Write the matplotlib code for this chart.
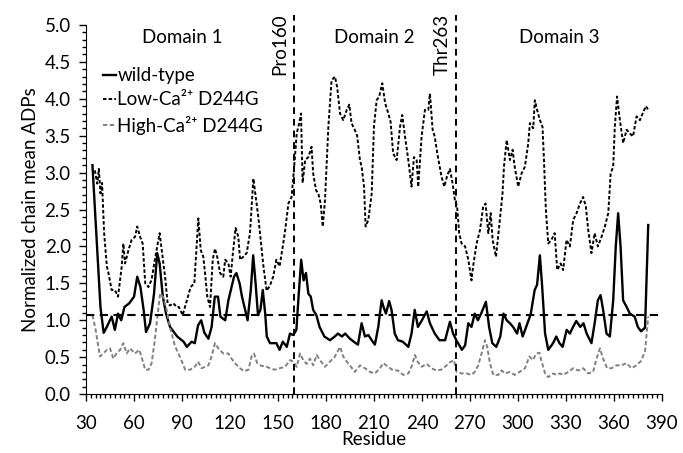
import matplotlib
matplotlib.use("Agg")
import matplotlib.pyplot as plt
from matplotlib.ticker import MultipleLocator, FormatStrFormatter

plt.rcParams['font.family'] = ['Lato', 'DejaVu Sans']

# wild-type
wt_res = [34, 37, 39, 41, 43, 46, 48, 50, 52, 54, 57, 60, 62, 64, 66, 67.5, 70, 72.5, 74.5, 76,
          78, 80, 82.5, 87, 91, 93, 96, 98, 100, 102, 104, 106.5, 108.5, 110.5, 112.5, 114, 117,
          119, 121, 122.5, 124, 126, 127.5, 129.5, 131, 133, 134.5, 136, 137.5, 139, 140.5, 142,
          143, 145, 149, 151, 153, 155.5, 157.5, 159.5, 161.5, 163, 164.5, 166, 167.5, 169, 170.5,
          172, 174, 176, 179, 182.5, 185.5, 187.5, 190, 192, 195, 198, 200, 202.3, 204.4, 206.5,
          208.6, 210.6, 212.7, 214.8, 216, 217.5, 219.5, 221, 223, 225, 228, 231.5, 233.5, 235.5,
          237.5, 240, 243, 245, 248, 251, 254.5, 257.5, 259.5, 261.5, 265, 267, 269, 271, 273,
          275, 277, 280, 282, 284, 286.5, 289, 291, 293, 295, 297, 299.5, 301, 303, 306, 308,
          310.5, 312, 313.75, 315.2, 317, 319, 322, 324, 326, 328, 330.5, 332.5, 334.5, 336.5,
          339, 341, 343, 346, 348, 350, 351.7, 353.3, 355.4, 357.5, 359.6, 361.2, 362.7, 364.2,
          365.8, 368, 370, 373, 375, 377, 379.5, 380.5, 381.5]
wt_val = [3.10, 1.95, 1.18, 0.83, 0.91, 1.05, 0.87, 1.09, 1.00, 1.18, 1.23, 1.32, 1.59, 1.45,
          1.14, 0.84, 0.96, 1.36, 1.91, 1.77, 1.32, 1.09, 0.91, 0.78, 0.71, 0.64, 0.71, 0.69,
          0.93, 1.00, 0.83, 0.75, 0.91, 1.32, 1.32, 1.05, 1.00, 1.27, 1.45, 1.59, 1.64, 1.50,
          1.32, 1.14, 1.00, 1.41, 1.88, 1.50, 1.07, 1.14, 1.41, 1.09, 0.78, 0.69, 0.69, 0.60,
          0.71, 0.64, 0.82, 0.80, 0.87, 1.36, 1.82, 1.54, 1.64, 1.36, 1.32, 1.14, 1.07, 0.91,
          0.78, 0.73, 0.78, 0.82, 0.78, 0.82, 0.75, 0.70, 0.67, 0.96, 0.78, 0.80, 0.73, 0.67,
          0.91, 1.27, 1.18, 1.09, 1.26, 1.14, 0.82, 0.73, 0.71, 0.64, 0.82, 1.14, 0.91, 1.00,
          1.12, 0.96, 0.82, 0.73, 0.73, 0.98, 0.82, 0.73, 0.60, 0.66, 0.96, 0.91, 1.09, 1.00,
          1.09, 1.25, 0.91, 0.69, 0.64, 0.78, 1.09, 1.00, 0.96, 0.91, 0.82, 0.96, 0.78, 0.96,
          1.08, 1.41, 1.48, 1.88, 1.45, 0.82, 0.60, 0.69, 0.78, 0.69, 0.64, 0.87, 0.82, 0.91,
          0.99, 0.91, 0.96, 0.82, 0.69, 0.96, 1.27, 1.34, 1.14, 0.82, 0.78, 1.27, 2.00, 2.45,
          2.00, 1.27, 1.18, 1.09, 1.05, 0.91, 0.85, 0.90, 1.60, 2.29]

# Low-Ca2+ D244G
lo_res = [35.5, 37, 38, 39, 40, 41.3, 43, 44, 46, 48, 50, 52.3, 53.3, 54.4, 56.5, 58.5, 60.6, 62,
          63.8, 65.4, 67, 69, 71, 73, 76, 77.3, 79.4, 81, 82.5, 84.6, 86.7, 88, 90.4, 93, 95.4,
          97.7, 100.2, 101.7, 103.3, 104.4, 105.8, 107.5, 109.2, 110.6, 112, 113.8, 115.8, 117,
          119, 120.4, 122, 123.5, 125.2, 126.3, 128.3, 130.4, 132.5, 134.6, 136.3, 137.7, 139.2,
          140.8, 142.9, 145, 147, 149, 151, 153, 154.5, 156.5, 158.5, 159.6, 160.6, 161.7, 163.3,
          164.4, 165.4, 167, 169, 171, 172, 173.8, 175.2, 176.7, 178, 179.4, 181.5, 183.5, 185.6,
          187, 188.8, 190.8, 193, 194.6, 196, 198, 199.5, 201.25, 202.3, 203.8, 204.8, 206.5,
          208.6, 210, 211.7, 213.3, 215.2, 217, 219, 220.4, 222, 224.2, 226.3, 227.7, 229.4,
          231.5, 233.5, 235, 236.7, 237.7, 239.8, 241.9, 244, 245, 246.7, 248, 249.6, 252.3, 254,
          255.8, 257.5, 259.2, 260.6, 262, 263.3, 264.8, 267, 269, 271, 272, 274.2, 276.3, 278.3,
          279.8, 281.5, 283, 284.2, 286.3, 288.3, 290.4, 291.3, 293, 295, 296.7, 298, 300.2,
          302.3, 304.4, 306.5, 307.5, 309.6, 310.6, 312, 313.8, 315.4, 316.3, 317.5, 319, 321,
          323, 324.6, 326.7, 328.3, 330.4, 332.5, 334.6, 336.7, 338.8, 340.8, 342.5, 344, 346,
          348, 350, 352.3, 354.4, 356.5, 358, 359.6, 360.6, 362, 363.8, 365.8, 368, 370, 372,
          374.2, 376.3, 378, 380, 381.5]
lo_val = [3.03, 2.85, 3.05, 2.72, 2.86, 2.18, 1.73, 1.64, 1.41, 1.41, 1.32, 1.73, 2.04, 1.77,
          1.95, 2.09, 2.13, 2.27, 2.13, 2.04, 1.50, 1.45, 1.55, 1.82, 2.18, 1.95, 1.59, 1.23,
          1.20, 1.23, 1.18, 1.18, 1.07, 1.27, 1.45, 1.50, 2.38, 1.95, 1.86, 1.64, 1.32, 1.18,
          1.82, 1.97, 1.86, 1.64, 1.59, 1.82, 1.77, 1.59, 1.95, 2.25, 2.13, 1.82, 1.86, 1.91,
          2.18, 2.92, 2.63, 2.40, 2.09, 1.75, 1.40, 1.47, 1.59, 1.82, 1.73, 2.00, 2.22, 2.58,
          2.67, 2.94, 3.21, 3.53, 3.67, 3.80, 2.86, 3.17, 3.21, 3.35, 2.99, 2.76, 2.72, 2.58,
          2.27, 2.63, 3.62, 4.25, 4.30, 4.16, 3.80, 3.71, 3.85, 3.92, 3.67, 3.58, 3.50, 3.17,
          3.08, 2.81, 2.27, 2.36, 2.72, 3.62, 3.98, 4.03, 4.21, 3.94, 3.80, 3.69, 3.26, 3.17,
          3.62, 3.78, 3.49, 3.17, 2.81, 3.21, 3.17, 2.81, 3.49, 3.85, 3.85, 4.07, 3.58, 3.49,
          3.26, 2.94, 2.81, 2.96, 3.05, 2.85, 2.63, 2.54, 2.18, 2.04, 2.00, 1.82, 1.54, 1.73,
          2.04, 2.22, 2.54, 2.58, 2.18, 2.45, 2.09, 1.86, 2.27, 2.72, 3.08, 3.44, 3.17, 3.31,
          3.08, 2.81, 2.99, 3.08, 3.40, 3.67, 3.60, 3.98, 3.85, 3.71, 3.62, 3.17, 2.49, 2.04,
          2.09, 2.18, 1.68, 1.77, 1.68, 2.09, 2.00, 2.36, 2.45, 2.58, 2.67, 2.54, 2.22, 1.91,
          2.18, 2.00, 2.13, 2.27, 2.45, 2.99, 3.08, 3.62, 4.03, 3.71, 3.40, 3.58, 3.53, 3.49,
          3.76, 3.71, 3.80, 3.90, 3.85]

# High-Ca2+ D244G
hi_res = [34, 36, 37.7, 38.8, 40.8, 43, 45, 47, 49, 51.3, 53.3, 55.4, 57.5, 60.6, 63.3, 64.6, 67,
          69, 71, 73, 74.6, 76.3, 78, 80, 82.5, 85.6, 88.8, 92, 95, 98, 100, 102.3, 104.4, 106.5,
          108.5, 110.6, 112.7, 115.8, 119, 121, 123, 126.3, 128.8, 131.5, 133.5, 135, 137, 139.8,
          142, 145, 148, 151, 154.4, 157.5, 159.6, 161.7, 163.8, 165.8, 168, 170, 172, 174.2,
          176.3, 179.4, 182.5, 185.6, 188.8, 190.8, 193, 196, 198, 201.3, 204.4, 207.5, 210.6,
          213.8, 215.8, 219, 222, 225, 228.3, 231.5, 233.5, 235.6, 237.3, 239.8, 243, 246, 249,
          252, 255, 257.5, 260, 261.7, 264.8, 268, 271, 273, 275.2, 277.3, 279.4, 280.8, 282.5,
          284.6, 287.7, 289.8, 292, 295, 298, 301, 304.4, 307.2, 309.4, 311.5, 313.5, 314.6, 317,
          319, 322, 324.2, 326.3, 328.3, 331.5, 334.6, 337.7, 340.8, 344, 347, 349.2, 351.3,
          353.3, 355.8, 358.5, 361.7, 364.8, 368, 371, 374.2, 377, 379.5, 381.5]
hi_val = [1.07, 0.87, 0.64, 0.51, 0.55, 0.60, 0.62, 0.48, 0.55, 0.60, 0.69, 0.55, 0.62, 0.55,
          0.60, 0.51, 0.33, 0.33, 0.42, 0.73, 1.05, 1.36, 1.32, 1.18, 0.90, 0.65, 0.50, 0.33,
          0.33, 0.37, 0.44, 0.35, 0.37, 0.39, 0.51, 0.69, 0.62, 0.55, 0.55, 0.48, 0.42, 0.35,
          0.31, 0.33, 0.51, 0.55, 0.42, 0.38, 0.38, 0.35, 0.33, 0.35, 0.37, 0.46, 0.44, 0.37,
          0.55, 0.46, 0.41, 0.48, 0.39, 0.53, 0.46, 0.37, 0.44, 0.51, 0.64, 0.51, 0.44, 0.36,
          0.30, 0.39, 0.35, 0.30, 0.28, 0.35, 0.42, 0.37, 0.32, 0.32, 0.26, 0.28, 0.37, 0.53,
          0.44, 0.37, 0.41, 0.35, 0.32, 0.33, 0.38, 0.43, 0.46, 0.30, 0.28, 0.28, 0.26, 0.30,
          0.39, 0.55, 0.73, 0.64, 0.42, 0.26, 0.26, 0.32, 0.28, 0.30, 0.26, 0.30, 0.35, 0.51,
          0.46, 0.55, 0.56, 0.46, 0.28, 0.23, 0.28, 0.26, 0.28, 0.26, 0.30, 0.35, 0.32, 0.35,
          0.28, 0.30, 0.48, 0.62, 0.48, 0.35, 0.35, 0.39, 0.39, 0.42, 0.35, 0.39, 0.45, 0.58,
          1.05]

threshold = 1.07
boundaries = [160, 261]
domains = ["Domain 1", "Domain 2", "Domain 3"]
domain_x = [90, 210.5, 326]
boundary_labels = ["Pro160", "Thr263"]
boundary_label_x = [151, 253]

fs = 13.5

fig = plt.figure(figsize=(6.83, 4.53), dpi=100)
ax = fig.add_axes([0.126, 0.130, 0.843, 0.815])

ax.plot(wt_res, wt_val, color="black", lw=1.7, label="wild-type")
ax.plot(lo_res, lo_val, color="black", lw=1.4, dashes=(1.8, 1.1), label="Low-Ca²⁺ D244G")
ax.plot(hi_res, hi_val, color="#808080", lw=1.4, dashes=(2.2, 1.3), label="High-Ca²⁺ D244G")

ax.plot([30, 390], [threshold, threshold], color="black", lw=1.5, dashes=(4, 2.6))
for b in boundaries:
    ax.plot([b, b], [0, 5.14], color="black", lw=1.4, dashes=(3.5, 2.5), clip_on=False)

for name, xd in zip(domains, domain_x):
    ax.text(xd, 4.83, name, ha="center", va="center", fontsize=fs)
for name, xd in zip(boundary_labels, boundary_label_x):
    ax.text(xd, 5.15, name, ha="center", va="top", rotation=90, fontsize=fs)

ax.set_xlim(30, 390)
ax.set_ylim(0, 5)
ax.xaxis.set_major_locator(MultipleLocator(30))
ax.xaxis.set_minor_locator(MultipleLocator(3))
ax.yaxis.set_major_locator(MultipleLocator(0.5))
ax.yaxis.set_minor_locator(MultipleLocator(0.1))
ax.yaxis.set_major_formatter(FormatStrFormatter("%.1f"))
ax.tick_params(which="major", length=5, width=1, labelsize=fs)
ax.tick_params(axis="y", which="major", pad=6)
ax.tick_params(axis="x", which="major", pad=10)
ax.tick_params(which="minor", length=3, width=1)
ax.spines["top"].set_visible(False)
ax.spines["right"].set_visible(False)
ax.set_xlabel("Residue", fontsize=fs, labelpad=-1)
ax.set_ylabel("Normalized chain mean ADPs", fontsize=fs, labelpad=4)

ax.legend(loc="upper left", bbox_to_anchor=(0.03, 0.885), frameon=False, fontsize=fs,
          handlelength=0.65, handletextpad=0.1, labelspacing=0.38, borderpad=0, borderaxespad=0)

fig.savefig("out.png", dpi=100)
